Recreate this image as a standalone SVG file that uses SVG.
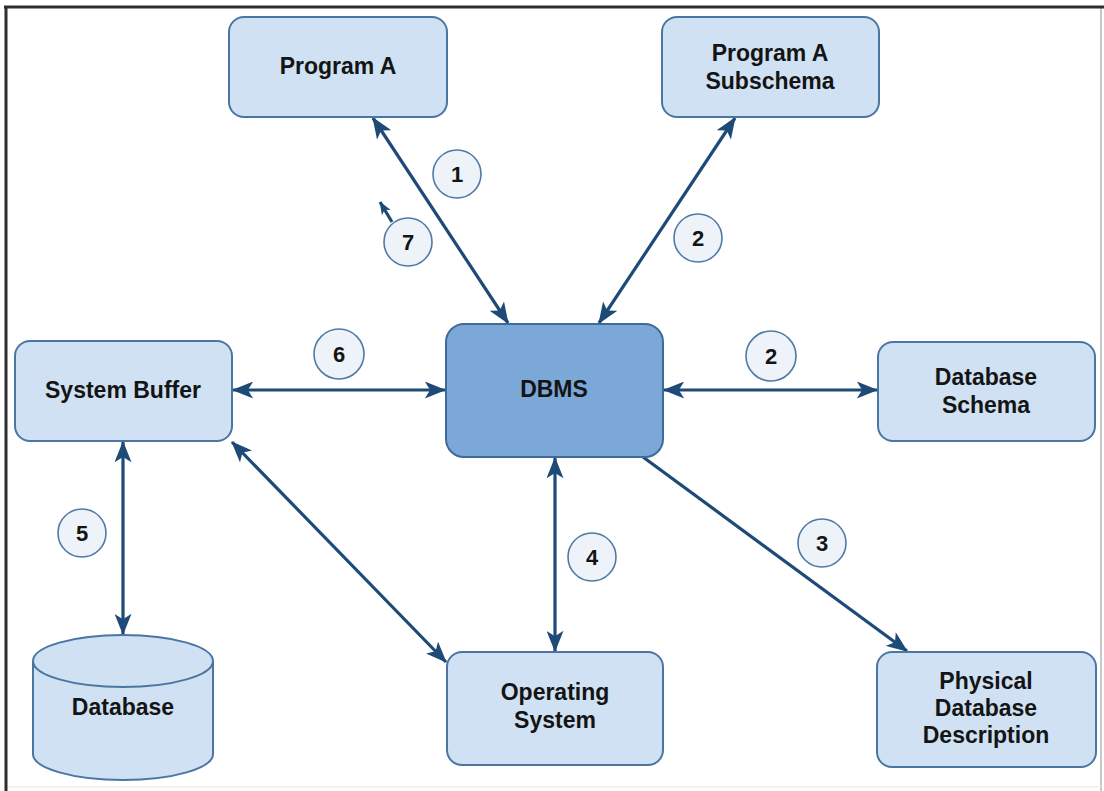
<svg xmlns="http://www.w3.org/2000/svg" width="1104" height="791" viewBox="0 0 1104 791">
  <defs>
    <style>
      .box { fill: #cfe1f3; stroke: #4b76a3; stroke-width: 2; }
      .core { fill: #7ba8d7; stroke: #3e6b9a; stroke-width: 2; }
      .lbl { font-family: "Liberation Sans", Arial, sans-serif; font-weight: bold; font-size: 23px; fill: #141414; text-anchor: middle; }
      .num { font-family: "Liberation Sans", Arial, sans-serif; font-weight: bold; font-size: 22px; fill: #141414; text-anchor: middle; }
      .badge { fill: #eef3f9; stroke: #4f7aa6; stroke-width: 1.6; }
      .edge { fill: none; stroke: #1d4a77; stroke-width: 3.2; }
    </style>
    <marker id="arrow" viewBox="0 0 20 16" markerUnits="userSpaceOnUse" markerWidth="22" markerHeight="17" refX="19" refY="8" orient="auto-start-reverse">
      <path d="M0,0 L20,8 L0,16 L5,8 z" fill="#1d4a77"/>
    </marker>
    <marker id="arrowSmall" viewBox="0 0 20 16" markerUnits="userSpaceOnUse" markerWidth="13" markerHeight="11" refX="19" refY="8" orient="auto">
      <path d="M0,0 L20,8 L0,16 L5,8 z" fill="#1d4a77"/>
    </marker>
  </defs>

  <!-- page background and frame -->
  <rect x="0" y="0" width="1104" height="791" fill="#ffffff"/>
  <line x1="1101" y1="7" x2="1101" y2="791" stroke="#c8c8c8" stroke-width="2"/>
  <line x1="6" y1="787" x2="1101" y2="787" stroke="#eeeeee" stroke-width="1.5"/>
  <line x1="4" y1="7" x2="1104" y2="7" stroke="#2e2e2e" stroke-width="3"/>
  <line x1="6" y1="6" x2="6" y2="791" stroke="#2e2e2e" stroke-width="3"/>

  <!-- connectors -->
  <g id="connectors">
    <line class="edge" x1="508" y1="323" x2="373" y2="118" marker-start="url(#arrow)" marker-end="url(#arrow)"/>
    <line class="edge" x1="599" y1="323" x2="735" y2="118" marker-start="url(#arrow)" marker-end="url(#arrow)"/>
    <line class="edge" x1="233" y1="390" x2="445" y2="390" marker-start="url(#arrow)" marker-end="url(#arrow)"/>
    <line class="edge" x1="664" y1="390" x2="877" y2="390" marker-start="url(#arrow)" marker-end="url(#arrow)"/>
    <line class="edge" x1="123" y1="442" x2="123" y2="634" marker-start="url(#arrow)" marker-end="url(#arrow)"/>
    <line class="edge" x1="232" y1="442" x2="446" y2="662" marker-start="url(#arrow)" marker-end="url(#arrow)"/>
    <line class="edge" x1="555" y1="458" x2="555" y2="651" marker-start="url(#arrow)" marker-end="url(#arrow)"/>
    <line class="edge" x1="643" y1="457" x2="907" y2="651" marker-end="url(#arrow)"/>
    <line class="edge" stroke-width="2" x1="392" y1="222" x2="380" y2="202" marker-end="url(#arrowSmall)"/>
  </g>

  <!-- step badges -->
  <g id="badges">
    <g id="badge-1"><circle class="badge" cx="457" cy="174" r="24"/><text class="num" x="457" y="182">1</text></g>
    <g id="badge-2a"><circle class="badge" cx="698" cy="238" r="24"/><text class="num" x="698" y="246">2</text></g>
    <g id="badge-7"><circle class="badge" cx="408" cy="242" r="24"/><text class="num" x="408" y="250">7</text></g>
    <g id="badge-6"><circle class="badge" cx="339" cy="354" r="25"/><text class="num" x="339" y="362">6</text></g>
    <g id="badge-2b"><circle class="badge" cx="771" cy="356" r="25"/><text class="num" x="771" y="364">2</text></g>
    <g id="badge-5"><circle class="badge" cx="82" cy="533" r="24"/><text class="num" x="82" y="541">5</text></g>
    <g id="badge-4"><circle class="badge" cx="592" cy="557" r="24"/><text class="num" x="592" y="565">4</text></g>
    <g id="badge-3"><circle class="badge" cx="822" cy="543" r="24"/><text class="num" x="822" y="551">3</text></g>
  </g>

  <!-- nodes -->
  <g id="program-a">
    <rect class="box" x="229" y="17" width="218" height="100" rx="15"/>
    <text class="lbl" x="338" y="74">Program A</text>
  </g>
  <g id="program-a-subschema">
    <rect class="box" x="662" y="17" width="217" height="100" rx="15"/>
    <text class="lbl" x="770" y="61">Program A</text>
    <text class="lbl" x="770" y="89">Subschema</text>
  </g>
  <g id="system-buffer">
    <rect class="box" x="15" y="341" width="217" height="100" rx="15"/>
    <text class="lbl" x="123" y="398">System Buffer</text>
  </g>
  <g id="dbms">
    <rect class="core" x="446" y="324" width="217" height="133" rx="18"/>
    <text class="lbl" x="554" y="397">DBMS</text>
  </g>
  <g id="database-schema">
    <rect class="box" x="878" y="342" width="217" height="99" rx="15"/>
    <text class="lbl" x="986" y="385">Database</text>
    <text class="lbl" x="986" y="413">Schema</text>
  </g>
  <g id="database">
    <path class="box" d="M33,661 L33,754 A90,26 0 0 0 213,754 L213,661 A90,26 0 0 0 33,661 Z"/>
    <path fill="none" stroke="#4b76a3" stroke-width="2" d="M33,661 A90,26 0 0 0 213,661"/>
    <text class="lbl" x="123" y="715">Database</text>
  </g>
  <g id="operating-system">
    <rect class="box" x="447" y="652" width="216" height="113" rx="15"/>
    <text class="lbl" x="555" y="700">Operating</text>
    <text class="lbl" x="555" y="728">System</text>
  </g>
  <g id="physical-database-description">
    <rect class="box" x="877" y="652" width="219" height="115" rx="15"/>
    <text class="lbl" x="986" y="689">Physical</text>
    <text class="lbl" x="986" y="716">Database</text>
    <text class="lbl" x="986" y="743">Description</text>
  </g>
</svg>
